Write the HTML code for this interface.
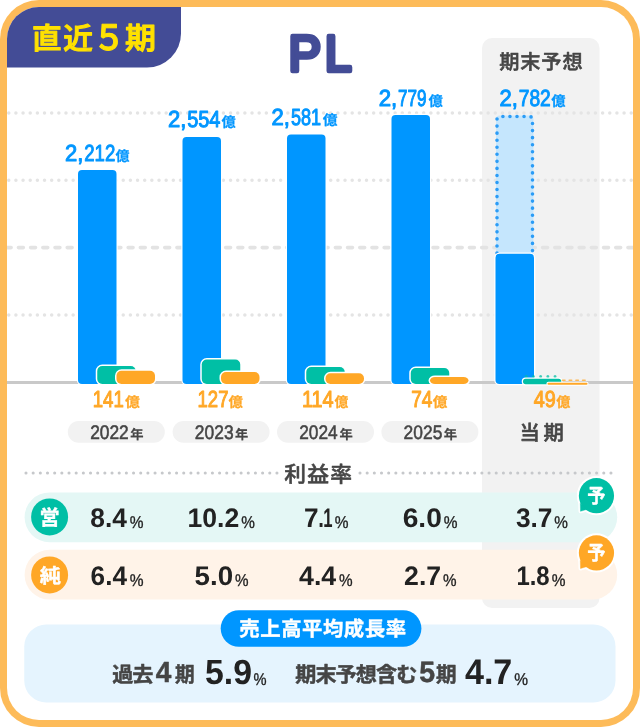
<!DOCTYPE html>
<html lang="ja"><head><meta charset="utf-8"><title>PL 直近５期</title>
<style>html,body{margin:0;padding:0;background:#fff}svg{display:block;will-change:transform;text-rendering:geometricPrecision}</style></head>
<body>
<svg width="640" height="727" viewBox="0 0 640 727">
<defs><clipPath id="inner"><rect x="7" y="7" width="626" height="713" rx="32" ry="32"/></clipPath></defs>
<rect x="0" y="0" width="640" height="727" rx="39" ry="39" fill="#fdbb59"/>
<rect x="7" y="7" width="626" height="713" rx="32" ry="32" fill="#ffffff"/>
<g clip-path="url(#inner)">
<path d="M0 0H181V33.5A34 34 0 0 1 147 67.5H0Z" fill="#434c96"/>
<rect x="482" y="38" width="117.5" height="570" rx="10" fill="#f2f2f2"/>
<line x1="8.75" y1="113" x2="632" y2="113" stroke="#e4e4e4" stroke-width="3.5" stroke-linecap="round" stroke-dasharray="0 7.155"/>
<line x1="8.75" y1="180.3" x2="632" y2="180.3" stroke="#e4e4e4" stroke-width="3.5" stroke-linecap="round" stroke-dasharray="0 7.155"/>
<line x1="8.75" y1="315" x2="632" y2="315" stroke="#e4e4e4" stroke-width="3.5" stroke-linecap="round" stroke-dasharray="0 7.155"/>
<line x1="6.25" y1="247.6" x2="640" y2="247.6" stroke="#e3e3e3" stroke-width="3.6" stroke-linecap="round" stroke-dasharray="4.9 7.29"/>
<line x1="7" y1="382.5" x2="633" y2="382.5" stroke="#c9c9c9" stroke-width="3.2"/>
</g>
<rect x="78" y="170" width="38.5" height="214" rx="4" fill="#0096ff" stroke="#fff" stroke-width="2.4" paint-order="stroke"/>
<rect x="97.25" y="366" width="38.5" height="18" rx="5" fill="#00bfa5" stroke="#fff" stroke-width="3" paint-order="stroke"/>
<rect x="116.5" y="370.75" width="38.5" height="13.25" rx="5" fill="#ffa726" stroke="#fff" stroke-width="3" paint-order="stroke"/>
<rect x="182.5" y="137" width="38.5" height="247" rx="4" fill="#0096ff" stroke="#fff" stroke-width="2.4" paint-order="stroke"/>
<rect x="201.75" y="359.5" width="38.5" height="24.5" rx="5" fill="#00bfa5" stroke="#fff" stroke-width="3" paint-order="stroke"/>
<rect x="221.0" y="372" width="38.5" height="12" rx="5" fill="#ffa726" stroke="#fff" stroke-width="3" paint-order="stroke"/>
<rect x="287" y="134.5" width="38.5" height="249.5" rx="4" fill="#0096ff" stroke="#fff" stroke-width="2.4" paint-order="stroke"/>
<rect x="306.25" y="367" width="38.5" height="17" rx="5" fill="#00bfa5" stroke="#fff" stroke-width="3" paint-order="stroke"/>
<rect x="325.5" y="373.25" width="38.5" height="10.75" rx="5" fill="#ffa726" stroke="#fff" stroke-width="3" paint-order="stroke"/>
<rect x="391.5" y="115" width="38.5" height="269" rx="4" fill="#0096ff" stroke="#fff" stroke-width="2.4" paint-order="stroke"/>
<rect x="410.75" y="368" width="38.5" height="16" rx="5" fill="#00bfa5" stroke="#fff" stroke-width="3" paint-order="stroke"/>
<rect x="430.0" y="377" width="38.5" height="7" rx="5" fill="#ffa726" stroke="#fff" stroke-width="3" paint-order="stroke"/>
<rect x="496" y="115.5" width="37.5" height="150" rx="4" fill="#c5e6fd"/>
<path d="M497 253V119.5A3 3 0 0 1 500 116.5H529.5A3 3 0 0 1 532.5 119.5V253" fill="none" stroke="#2b9cf6" stroke-width="3.6" stroke-linecap="round" stroke-dasharray="0 7.05"/>
<rect x="495.5" y="253.75" width="38.5" height="130.25" rx="4" fill="#0096ff" stroke="#fff" stroke-width="2.6" paint-order="stroke"/>
<path d="M526.25 376.4H556" fill="none" stroke="#00bfa5" stroke-width="3" stroke-linecap="round" stroke-dasharray="0 7.2" opacity="0.75"/>
<rect x="523" y="378.8" width="38.25" height="5.4" rx="2.7" fill="#00bfa5" stroke="#fff" stroke-width="2.6" paint-order="stroke"/>
<path d="M562.5 380.3H586" fill="none" stroke="#ffa726" stroke-width="1.6" stroke-linecap="round" stroke-dasharray="2.5 4.2" opacity="0.75"/>
<rect x="547.5" y="382.8" width="40" height="1.9" rx="0.95" fill="#ffa726" stroke="#fff" stroke-width="2.2" paint-order="stroke"/>
<text><tspan id="b0a" x="65.02" y="161.00" font-family='"Liberation Sans","Noto Sans CJK JP",sans-serif' font-weight="400" font-size="23.30" fill="#0096ff" stroke="#0096ff" stroke-width="1.0" stroke-linejoin="round" stroke-linecap="round" textLength="18.38" lengthAdjust="spacingAndGlyphs">2,</tspan><tspan id="b0b" x="84.28" y="161.00" font-family='"Liberation Sans","Noto Sans CJK JP",sans-serif' font-weight="400" font-size="23.30" fill="#0096ff" stroke="#0096ff" stroke-width="1.0" stroke-linejoin="round" stroke-linecap="round" textLength="31.03" lengthAdjust="spacingAndGlyphs">212</tspan><tspan id="bo0" x="115.43" y="161.00" font-family='"Noto Sans CJK JP","Liberation Sans",sans-serif' font-weight="700" font-size="13.90" fill="#0096ff" stroke="#0096ff" stroke-width="0.25" stroke-linejoin="round" stroke-linecap="round" textLength="13.96" lengthAdjust="spacingAndGlyphs">億</tspan></text>
<text><tspan id="b1a" x="168.02" y="127.00" font-family='"Liberation Sans","Noto Sans CJK JP",sans-serif' font-weight="400" font-size="23.30" fill="#0096ff" stroke="#0096ff" stroke-width="1.0" stroke-linejoin="round" stroke-linecap="round" textLength="18.38" lengthAdjust="spacingAndGlyphs">2,</tspan><tspan id="b1b" x="187.13" y="127.00" font-family='"Liberation Sans","Noto Sans CJK JP",sans-serif' font-weight="400" font-size="23.30" fill="#0096ff" stroke="#0096ff" stroke-width="1.0" stroke-linejoin="round" stroke-linecap="round" textLength="33.31" lengthAdjust="spacingAndGlyphs">554</tspan><tspan id="bo1" x="221.44" y="127.00" font-family='"Noto Sans CJK JP","Liberation Sans",sans-serif' font-weight="700" font-size="13.90" fill="#0096ff" stroke="#0096ff" stroke-width="0.25" stroke-linejoin="round" stroke-linecap="round" textLength="14.15" lengthAdjust="spacingAndGlyphs">億</tspan></text>
<text><tspan id="b2a" x="271.56" y="125.00" font-family='"Liberation Sans","Noto Sans CJK JP",sans-serif' font-weight="400" font-size="23.30" fill="#0096ff" stroke="#0096ff" stroke-width="1.0" stroke-linejoin="round" stroke-linecap="round" textLength="18.42" lengthAdjust="spacingAndGlyphs">2,</tspan><tspan id="b2b" x="290.94" y="125.00" font-family='"Liberation Sans","Noto Sans CJK JP",sans-serif' font-weight="400" font-size="23.30" fill="#0096ff" stroke="#0096ff" stroke-width="1.0" stroke-linejoin="round" stroke-linecap="round" textLength="30.13" lengthAdjust="spacingAndGlyphs">581</tspan><tspan id="bo2" x="322.76" y="125.00" font-family='"Noto Sans CJK JP","Liberation Sans",sans-serif' font-weight="700" font-size="13.90" fill="#0096ff" stroke="#0096ff" stroke-width="0.25" stroke-linejoin="round" stroke-linecap="round" textLength="14.74" lengthAdjust="spacingAndGlyphs">億</tspan></text>
<text><tspan id="b3a" x="378.70" y="106.00" font-family='"Liberation Sans","Noto Sans CJK JP",sans-serif' font-weight="400" font-size="23.30" fill="#0096ff" stroke="#0096ff" stroke-width="1.0" stroke-linejoin="round" stroke-linecap="round" textLength="18.55" lengthAdjust="spacingAndGlyphs">2,</tspan><tspan id="b3b" x="397.89" y="106.00" font-family='"Liberation Sans","Noto Sans CJK JP",sans-serif' font-weight="400" font-size="23.30" fill="#0096ff" stroke="#0096ff" stroke-width="1.0" stroke-linejoin="round" stroke-linecap="round" textLength="28.57" lengthAdjust="spacingAndGlyphs">779</tspan><tspan id="bo3" x="428.47" y="106.00" font-family='"Noto Sans CJK JP","Liberation Sans",sans-serif' font-weight="700" font-size="13.90" fill="#0096ff" stroke="#0096ff" stroke-width="0.25" stroke-linejoin="round" stroke-linecap="round" textLength="14.29" lengthAdjust="spacingAndGlyphs">億</tspan></text>
<text><tspan id="b4a" x="499.56" y="106.00" font-family='"Liberation Sans","Noto Sans CJK JP",sans-serif' font-weight="400" font-size="23.30" fill="#0096ff" stroke="#0096ff" stroke-width="1.0" stroke-linejoin="round" stroke-linecap="round" textLength="18.42" lengthAdjust="spacingAndGlyphs">2,</tspan><tspan id="b4b" x="518.79" y="106.00" font-family='"Liberation Sans","Noto Sans CJK JP",sans-serif' font-weight="400" font-size="23.30" fill="#0096ff" stroke="#0096ff" stroke-width="1.0" stroke-linejoin="round" stroke-linecap="round" textLength="31.99" lengthAdjust="spacingAndGlyphs">782</tspan><tspan id="bo4" x="551.39" y="106.00" font-family='"Noto Sans CJK JP","Liberation Sans",sans-serif' font-weight="700" font-size="13.90" fill="#0096ff" stroke="#0096ff" stroke-width="0.25" stroke-linejoin="round" stroke-linecap="round" textLength="14.22" lengthAdjust="spacingAndGlyphs">億</tspan></text>
<text><tspan id="o0" x="92.72" y="406.60" font-family='"Liberation Sans","Noto Sans CJK JP",sans-serif' font-weight="400" font-size="23.30" fill="#ffa726" stroke="#ffa726" stroke-width="1.0" stroke-linejoin="round" stroke-linecap="round" textLength="31.07" lengthAdjust="spacingAndGlyphs">141</tspan><tspan id="oo0" x="125.05" y="407.00" font-family='"Noto Sans CJK JP","Liberation Sans",sans-serif' font-weight="700" font-size="13.90" fill="#ffa726" stroke="#ffa726" stroke-width="0.25" stroke-linejoin="round" stroke-linecap="round" textLength="14.80" lengthAdjust="spacingAndGlyphs">億</tspan></text>
<text><tspan id="o1" x="197.54" y="406.60" font-family='"Liberation Sans","Noto Sans CJK JP",sans-serif' font-weight="400" font-size="23.30" fill="#ffa726" stroke="#ffa726" stroke-width="1.0" stroke-linejoin="round" stroke-linecap="round" textLength="30.91" lengthAdjust="spacingAndGlyphs">127</tspan><tspan id="oo1" x="228.55" y="407.00" font-family='"Noto Sans CJK JP","Liberation Sans",sans-serif' font-weight="700" font-size="13.90" fill="#ffa726" stroke="#ffa726" stroke-width="0.25" stroke-linejoin="round" stroke-linecap="round" textLength="14.36" lengthAdjust="spacingAndGlyphs">億</tspan></text>
<text><tspan id="o2" x="301.95" y="406.60" font-family='"Liberation Sans","Noto Sans CJK JP",sans-serif' font-weight="400" font-size="23.30" fill="#ffa726" stroke="#ffa726" stroke-width="1.0" stroke-linejoin="round" stroke-linecap="round" textLength="31.70" lengthAdjust="spacingAndGlyphs">114</tspan><tspan id="oo2" x="334.44" y="407.00" font-family='"Noto Sans CJK JP","Liberation Sans",sans-serif' font-weight="700" font-size="13.90" fill="#ffa726" stroke="#ffa726" stroke-width="0.25" stroke-linejoin="round" stroke-linecap="round" textLength="13.78" lengthAdjust="spacingAndGlyphs">億</tspan></text>
<text><tspan id="o3" x="411.28" y="406.60" font-family='"Liberation Sans","Noto Sans CJK JP",sans-serif' font-weight="400" font-size="23.30" fill="#ffa726" stroke="#ffa726" stroke-width="1.0" stroke-linejoin="round" stroke-linecap="round" textLength="21.21" lengthAdjust="spacingAndGlyphs">74</tspan><tspan id="oo3" x="432.85" y="407.00" font-family='"Noto Sans CJK JP","Liberation Sans",sans-serif' font-weight="700" font-size="13.90" fill="#ffa726" stroke="#ffa726" stroke-width="0.25" stroke-linejoin="round" stroke-linecap="round" textLength="14.64" lengthAdjust="spacingAndGlyphs">億</tspan></text>
<text><tspan id="o4" x="533.70" y="406.60" font-family='"Liberation Sans","Noto Sans CJK JP",sans-serif' font-weight="400" font-size="23.30" fill="#ffa726" stroke="#ffa726" stroke-width="1.0" stroke-linejoin="round" stroke-linecap="round" textLength="22.03" lengthAdjust="spacingAndGlyphs">49</tspan><tspan id="oo4" x="556.16" y="407.00" font-family='"Noto Sans CJK JP","Liberation Sans",sans-serif' font-weight="700" font-size="13.90" fill="#ffa726" stroke="#ffa726" stroke-width="0.25" stroke-linejoin="round" stroke-linecap="round" textLength="14.10" lengthAdjust="spacingAndGlyphs">億</tspan></text>
<rect x="67.8" y="421" width="97" height="21.8" rx="10.9" fill="#f2f2f2"/>
<text><tspan id="y0" x="90.15" y="439.08" font-family='"Liberation Sans","Noto Sans CJK JP",sans-serif' font-weight="400" font-size="19.69" fill="#454545" stroke="#454545" stroke-width="0.55" stroke-linejoin="round" stroke-linecap="round" textLength="38.63" lengthAdjust="spacingAndGlyphs">2022</tspan><tspan id="yn0" x="130.23" y="439.05" font-family='"Noto Sans CJK JP","Liberation Sans",sans-serif' font-weight="700" font-size="13.18" fill="#454545" stroke="#454545" stroke-width="0.2" stroke-linejoin="round" stroke-linecap="round" textLength="13.29" lengthAdjust="spacingAndGlyphs">年</tspan></text>
<rect x="172.6" y="421" width="97" height="21.8" rx="10.9" fill="#f2f2f2"/>
<text><tspan id="y1" x="194.86" y="439.10" font-family='"Liberation Sans","Noto Sans CJK JP",sans-serif' font-weight="400" font-size="19.58" fill="#454545" stroke="#454545" stroke-width="0.55" stroke-linejoin="round" stroke-linecap="round" textLength="38.71" lengthAdjust="spacingAndGlyphs">2023</tspan><tspan id="yn1" x="235.07" y="439.33" font-family='"Noto Sans CJK JP","Liberation Sans",sans-serif' font-weight="700" font-size="13.04" fill="#454545" stroke="#454545" stroke-width="0.2" stroke-linejoin="round" stroke-linecap="round" textLength="13.18" lengthAdjust="spacingAndGlyphs">年</tspan></text>
<rect x="277" y="421" width="97" height="21.8" rx="10.9" fill="#f2f2f2"/>
<text><tspan id="y2" x="299.28" y="439.19" font-family='"Liberation Sans","Noto Sans CJK JP",sans-serif' font-weight="400" font-size="19.75" fill="#454545" stroke="#454545" stroke-width="0.55" stroke-linejoin="round" stroke-linecap="round" textLength="38.39" lengthAdjust="spacingAndGlyphs">2024</tspan><tspan id="yn2" x="339.41" y="439.41" font-family='"Noto Sans CJK JP","Liberation Sans",sans-serif' font-weight="700" font-size="13.16" fill="#454545" stroke="#454545" stroke-width="0.2" stroke-linejoin="round" stroke-linecap="round" textLength="13.27" lengthAdjust="spacingAndGlyphs">年</tspan></text>
<rect x="381.4" y="421" width="97" height="21.8" rx="10.9" fill="#f2f2f2"/>
<text><tspan id="y3" x="403.61" y="439.08" font-family='"Liberation Sans","Noto Sans CJK JP",sans-serif' font-weight="400" font-size="19.46" fill="#454545" stroke="#454545" stroke-width="0.55" stroke-linejoin="round" stroke-linecap="round" textLength="38.74" lengthAdjust="spacingAndGlyphs">2025</tspan><tspan id="yn3" x="443.85" y="439.11" font-family='"Noto Sans CJK JP","Liberation Sans",sans-serif' font-weight="700" font-size="13.20" fill="#454545" stroke="#454545" stroke-width="0.2" stroke-linejoin="round" stroke-linecap="round" textLength="13.35" lengthAdjust="spacingAndGlyphs">年</tspan></text>
<text id="touki" x="519.47" y="439.65" font-family='"Noto Sans CJK JP","Liberation Sans",sans-serif' font-weight="500" font-size="20.38" fill="#454545" stroke="#454545" stroke-width="0.55" stroke-linejoin="round" stroke-linecap="round" textLength="44.44" lengthAdjust="spacing">当期</text>
<text id="kimatsu" x="499.16" y="69.23" font-family='"Noto Sans CJK JP","Liberation Sans",sans-serif' font-weight="500" font-size="20.20" fill="#454545" stroke="#454545" stroke-width="0.55" stroke-linejoin="round" stroke-linecap="round" textLength="83.50" lengthAdjust="spacing">期末予想</text>
<text><tspan id="P" x="288.45" y="70.94" font-family='"Liberation Sans","Noto Sans CJK JP",sans-serif' font-weight="400" font-size="50.70" fill="#434c96" stroke="#434c96" stroke-width="4.6" stroke-linejoin="round" stroke-linecap="round" textLength="32.56" lengthAdjust="spacingAndGlyphs">P</tspan><tspan id="L" x="324.77" y="70.94" font-family='"Liberation Sans","Noto Sans CJK JP",sans-serif' font-weight="400" font-size="50.70" fill="#434c96" stroke="#434c96" stroke-width="4.6" stroke-linejoin="round" stroke-linecap="round" textLength="26.97" lengthAdjust="spacingAndGlyphs">L</tspan></text>
<text><tspan id="badge1" x="31.97" y="49.14" font-family='"Noto Sans CJK JP","Liberation Sans",sans-serif' font-weight="500" font-size="29.62" fill="#ffe100" stroke="#ffe100" stroke-width="1.1" stroke-linejoin="round" stroke-linecap="round" textLength="61.02" lengthAdjust="spacing">直近</tspan><tspan id="badge2" x="92.80" y="49.92" font-family='"Noto Sans CJK JP","Liberation Sans",sans-serif' font-weight="500" font-size="34.86" fill="#ffe100" stroke="#ffe100" stroke-width="1.1" stroke-linejoin="round" stroke-linecap="round" textLength="32.49" lengthAdjust="spacingAndGlyphs">５</tspan><tspan id="badge3" x="124.98" y="49.23" font-family='"Noto Sans CJK JP","Liberation Sans",sans-serif' font-weight="500" font-size="30.16" fill="#ffe100" stroke="#ffe100" stroke-width="1.1" stroke-linejoin="round" stroke-linecap="round" textLength="30.97" lengthAdjust="spacingAndGlyphs">期</tspan></text>
<line x1="26" y1="473" x2="277" y2="473" stroke="#c6c8cb" stroke-width="3.1" stroke-linecap="round" stroke-dasharray="0 7.17"/>
<line x1="360" y1="473" x2="611.5" y2="473" stroke="#c6c8cb" stroke-width="3.1" stroke-linecap="round" stroke-dasharray="0 7.17"/>
<text id="rieki" x="284.16" y="482.04" font-family='"Noto Sans CJK JP","Liberation Sans",sans-serif' font-weight="500" font-size="21.74" fill="#454545" stroke="#454545" stroke-width="0.55" stroke-linejoin="round" stroke-linecap="round" textLength="67.81" lengthAdjust="spacing">利益率</text>
<rect x="24.6" y="492.4" width="592.6" height="49.8" rx="24.9" fill="#e4f7f5"/>
<rect x="24.6" y="549.8" width="592.6" height="49.8" rx="24.9" fill="#fff3e8"/>
<circle cx="49.6" cy="516.9" r="18.5" fill="#00bfa5"/>
<circle cx="49.6" cy="574.9" r="18.5" fill="#ffa726"/>
<text id="ei" x="39.58" y="524.94" font-family='"Noto Sans CJK JP","Liberation Sans",sans-serif' font-weight="700" font-size="20.71" fill="#ffffff" stroke="#ffffff" stroke-width="0.4" stroke-linejoin="round" stroke-linecap="round" textLength="20.20" lengthAdjust="spacingAndGlyphs">営</text>
<text id="jun" x="39.80" y="582.84" font-family='"Noto Sans CJK JP","Liberation Sans",sans-serif' font-weight="700" font-size="19.98" fill="#ffffff" stroke="#ffffff" stroke-width="0.4" stroke-linejoin="round" stroke-linecap="round" textLength="21.29" lengthAdjust="spacingAndGlyphs">純</text>
<text><tspan id="r00" x="90.26" y="527.00" font-family='"Liberation Sans","Noto Sans CJK JP",sans-serif' font-weight="700" font-size="26.80" fill="#222222" textLength="36.60" lengthAdjust="spacingAndGlyphs">8.4</tspan><tspan id="p00" x="129.77" y="528.00" font-family='"Liberation Sans","Noto Sans CJK JP",sans-serif' font-weight="400" font-size="17.10" fill="#222222" stroke="#222222" stroke-width="0.35" stroke-linejoin="round" stroke-linecap="round" textLength="13.74" lengthAdjust="spacingAndGlyphs">%</tspan></text>
<text><tspan id="r01" x="187.50" y="527.00" font-family='"Liberation Sans","Noto Sans CJK JP",sans-serif' font-weight="700" font-size="26.80" fill="#222222" textLength="51.74" lengthAdjust="spacingAndGlyphs">10.2</tspan><tspan id="p01" x="241.28" y="528.00" font-family='"Liberation Sans","Noto Sans CJK JP",sans-serif' font-weight="400" font-size="17.10" fill="#222222" stroke="#222222" stroke-width="0.35" stroke-linejoin="round" stroke-linecap="round" textLength="13.62" lengthAdjust="spacingAndGlyphs">%</tspan></text>
<text><tspan id="r02a" x="303.97" y="527.00" font-family='"Liberation Sans","Noto Sans CJK JP",sans-serif' font-weight="700" font-size="26.80" fill="#222222" textLength="14.54" lengthAdjust="spacingAndGlyphs">7</tspan><tspan id="r02b" x="318.17" y="527.00" font-family='"Liberation Sans","Noto Sans CJK JP",sans-serif' font-weight="700" font-size="26.80" fill="#222222" textLength="5.65" lengthAdjust="spacingAndGlyphs">.</tspan><tspan id="r02c" x="323.18" y="527.00" font-family='"Liberation Sans","Noto Sans CJK JP",sans-serif' font-weight="700" font-size="26.80" fill="#222222" textLength="9.27" lengthAdjust="spacingAndGlyphs">1</tspan><tspan id="p02" x="334.77" y="528.00" font-family='"Liberation Sans","Noto Sans CJK JP",sans-serif' font-weight="400" font-size="17.10" fill="#222222" stroke="#222222" stroke-width="0.35" stroke-linejoin="round" stroke-linecap="round" textLength="13.74" lengthAdjust="spacingAndGlyphs">%</tspan></text>
<text><tspan id="r03" x="402.71" y="527.00" font-family='"Liberation Sans","Noto Sans CJK JP",sans-serif' font-weight="700" font-size="26.80" fill="#222222" textLength="39.15" lengthAdjust="spacingAndGlyphs">6.0</tspan><tspan id="p03" x="443.77" y="528.00" font-family='"Liberation Sans","Noto Sans CJK JP",sans-serif' font-weight="400" font-size="17.10" fill="#222222" stroke="#222222" stroke-width="0.35" stroke-linejoin="round" stroke-linecap="round" textLength="13.74" lengthAdjust="spacingAndGlyphs">%</tspan></text>
<text><tspan id="r04" x="515.94" y="527.00" font-family='"Liberation Sans","Noto Sans CJK JP",sans-serif' font-weight="700" font-size="26.80" fill="#222222" textLength="36.54" lengthAdjust="spacingAndGlyphs">3.7</tspan><tspan id="p04" x="554.28" y="528.00" font-family='"Liberation Sans","Noto Sans CJK JP",sans-serif' font-weight="400" font-size="17.10" fill="#222222" stroke="#222222" stroke-width="0.35" stroke-linejoin="round" stroke-linecap="round" textLength="13.62" lengthAdjust="spacingAndGlyphs">%</tspan></text>
<text><tspan id="r10" x="90.62" y="585.00" font-family='"Liberation Sans","Noto Sans CJK JP",sans-serif' font-weight="700" font-size="26.80" fill="#222222" textLength="36.33" lengthAdjust="spacingAndGlyphs">6.4</tspan><tspan id="p10" x="129.84" y="586.00" font-family='"Liberation Sans","Noto Sans CJK JP",sans-serif' font-weight="400" font-size="17.10" fill="#222222" stroke="#222222" stroke-width="0.35" stroke-linejoin="round" stroke-linecap="round" textLength="13.79" lengthAdjust="spacingAndGlyphs">%</tspan></text>
<text><tspan id="r11" x="194.62" y="585.00" font-family='"Liberation Sans","Noto Sans CJK JP",sans-serif' font-weight="700" font-size="26.80" fill="#222222" textLength="38.58" lengthAdjust="spacingAndGlyphs">5.0</tspan><tspan id="p11" x="235.12" y="586.00" font-family='"Liberation Sans","Noto Sans CJK JP",sans-serif' font-weight="400" font-size="17.10" fill="#222222" stroke="#222222" stroke-width="0.35" stroke-linejoin="round" stroke-linecap="round" textLength="13.52" lengthAdjust="spacingAndGlyphs">%</tspan></text>
<text><tspan id="r12" x="299.06" y="585.00" font-family='"Liberation Sans","Noto Sans CJK JP",sans-serif' font-weight="700" font-size="26.80" fill="#222222" textLength="37.16" lengthAdjust="spacingAndGlyphs">4.4</tspan><tspan id="p12" x="339.06" y="586.00" font-family='"Liberation Sans","Noto Sans CJK JP",sans-serif' font-weight="400" font-size="17.10" fill="#222222" stroke="#222222" stroke-width="0.35" stroke-linejoin="round" stroke-linecap="round" textLength="13.60" lengthAdjust="spacingAndGlyphs">%</tspan></text>
<text><tspan id="r13" x="404.12" y="585.00" font-family='"Liberation Sans","Noto Sans CJK JP",sans-serif' font-weight="700" font-size="26.80" fill="#222222" textLength="37.04" lengthAdjust="spacingAndGlyphs">2.7</tspan><tspan id="p13" x="443.12" y="586.00" font-family='"Liberation Sans","Noto Sans CJK JP",sans-serif' font-weight="400" font-size="17.10" fill="#222222" stroke="#222222" stroke-width="0.35" stroke-linejoin="round" stroke-linecap="round" textLength="13.52" lengthAdjust="spacingAndGlyphs">%</tspan></text>
<text><tspan id="r14" x="516.40" y="585.00" font-family='"Liberation Sans","Noto Sans CJK JP",sans-serif' font-weight="700" font-size="26.80" fill="#222222" textLength="33.27" lengthAdjust="spacingAndGlyphs">1.8</tspan><tspan id="p14" x="551.77" y="586.00" font-family='"Liberation Sans","Noto Sans CJK JP",sans-serif' font-weight="400" font-size="17.10" fill="#222222" stroke="#222222" stroke-width="0.35" stroke-linejoin="round" stroke-linecap="round" textLength="13.72" lengthAdjust="spacingAndGlyphs">%</tspan></text>
<path d="M580.3 503.2L580.5 511.3L587.2 509.3Z" fill="#00bfa5" stroke="#fff" stroke-width="4" stroke-linejoin="round"/>
<circle cx="596.45" cy="495.7" r="17.6" fill="#00bfa5" stroke="#fff" stroke-width="4" paint-order="stroke"/>
<path d="M580.3 503.2L580.5 511.3L587.2 509.3Z" fill="#00bfa5" stroke="#00bfa5" stroke-width="0.4" stroke-linejoin="round"/>
<text id="yo0" x="587.24" y="502.68" font-family='"Noto Sans CJK JP","Liberation Sans",sans-serif' font-weight="700" font-size="20.09" fill="#ffffff" stroke="#ffffff" stroke-width="0.4" stroke-linejoin="round" stroke-linecap="round" textLength="18.25" lengthAdjust="spacingAndGlyphs">予</text>
<path d="M580.3 560.4L580.5 568.5L587.2 566.5Z" fill="#ffa726" stroke="#fff" stroke-width="4" stroke-linejoin="round"/>
<circle cx="596.45" cy="552.9" r="17.6" fill="#ffa726" stroke="#fff" stroke-width="4" paint-order="stroke"/>
<path d="M580.3 560.4L580.5 568.5L587.2 566.5Z" fill="#ffa726" stroke="#ffa726" stroke-width="0.4" stroke-linejoin="round"/>
<text id="yo1" x="587.24" y="559.88" font-family='"Noto Sans CJK JP","Liberation Sans",sans-serif' font-weight="700" font-size="20.09" fill="#ffffff" stroke="#ffffff" stroke-width="0.4" stroke-linejoin="round" stroke-linecap="round" textLength="18.25" lengthAdjust="spacingAndGlyphs">予</text>
<rect x="24.25" y="624.5" width="591.25" height="78" rx="22" fill="#e5f4fe"/>
<rect x="220.7" y="610.2" width="200.7" height="36.6" rx="18.3" fill="#0096ff"/>
<text id="uriage" x="239.33" y="636.08" font-family='"Noto Sans CJK JP","Liberation Sans",sans-serif' font-weight="700" font-size="20.36" fill="#ffffff" stroke="#ffffff" stroke-width="0.4" stroke-linejoin="round" stroke-linecap="round" textLength="166.67" lengthAdjust="spacing">売上高平均成長率</text>
<text><tspan id="kako" x="112.25" y="681.94" font-family='"Noto Sans CJK JP","Liberation Sans",sans-serif' font-weight="700" font-size="21.09" fill="#454545" stroke="#454545" stroke-width="0.5" stroke-linejoin="round" stroke-linecap="round" textLength="40.99" lengthAdjust="spacing">過去</tspan><tspan id="d4" x="155.80" y="681.99" font-family='"Liberation Sans","Noto Sans CJK JP",sans-serif' font-weight="700" font-size="29.18" fill="#454545" stroke="#454545" stroke-width="0.5" stroke-linejoin="round" stroke-linecap="round" textLength="15.59" lengthAdjust="spacingAndGlyphs">4</tspan><tspan id="ki1" x="175.01" y="681.91" font-family='"Noto Sans CJK JP","Liberation Sans",sans-serif' font-weight="700" font-size="21.15" fill="#454545" stroke="#454545" stroke-width="0.5" stroke-linejoin="round" stroke-linecap="round" textLength="19.66" lengthAdjust="spacingAndGlyphs">期</tspan></text>
<text><tspan id="v59" x="204.99" y="683.97" font-family='"Liberation Sans","Noto Sans CJK JP",sans-serif' font-weight="700" font-size="34.90" fill="#222222" textLength="46.97" lengthAdjust="spacingAndGlyphs">5.9</tspan><tspan id="pc1" x="253.55" y="684.92" font-family='"Liberation Sans","Noto Sans CJK JP",sans-serif' font-weight="400" font-size="16.98" fill="#222222" stroke="#222222" stroke-width="0.35" stroke-linejoin="round" stroke-linecap="round" textLength="13.05" lengthAdjust="spacingAndGlyphs">%</tspan></text>
<text><tspan id="kimatsu5" x="295.23" y="681.57" font-family='"Noto Sans CJK JP","Liberation Sans",sans-serif' font-weight="700" font-size="21.08" fill="#454545" stroke="#454545" stroke-width="0.5" stroke-linejoin="round" stroke-linecap="round" textLength="122.04" lengthAdjust="spacing">期末予想含む</tspan><tspan id="d5" x="419.21" y="681.53" font-family='"Liberation Sans","Noto Sans CJK JP",sans-serif' font-weight="700" font-size="29.37" fill="#454545" stroke="#454545" stroke-width="0.5" stroke-linejoin="round" stroke-linecap="round" textLength="15.88" lengthAdjust="spacingAndGlyphs">5</tspan><tspan id="ki2" x="435.91" y="681.81" font-family='"Noto Sans CJK JP","Liberation Sans",sans-serif' font-weight="700" font-size="21.08" fill="#454545" stroke="#454545" stroke-width="0.5" stroke-linejoin="round" stroke-linecap="round" textLength="20.56" lengthAdjust="spacingAndGlyphs">期</tspan></text>
<text><tspan id="v47" x="464.95" y="684.25" font-family='"Liberation Sans","Noto Sans CJK JP",sans-serif' font-weight="700" font-size="35.66" fill="#222222" textLength="47.38" lengthAdjust="spacingAndGlyphs">4.7</tspan><tspan id="pc2" x="514.15" y="684.90" font-family='"Liberation Sans","Noto Sans CJK JP",sans-serif' font-weight="400" font-size="17.02" fill="#222222" stroke="#222222" stroke-width="0.35" stroke-linejoin="round" stroke-linecap="round" textLength="13.76" lengthAdjust="spacingAndGlyphs">%</tspan></text>
</svg>
</body></html>
